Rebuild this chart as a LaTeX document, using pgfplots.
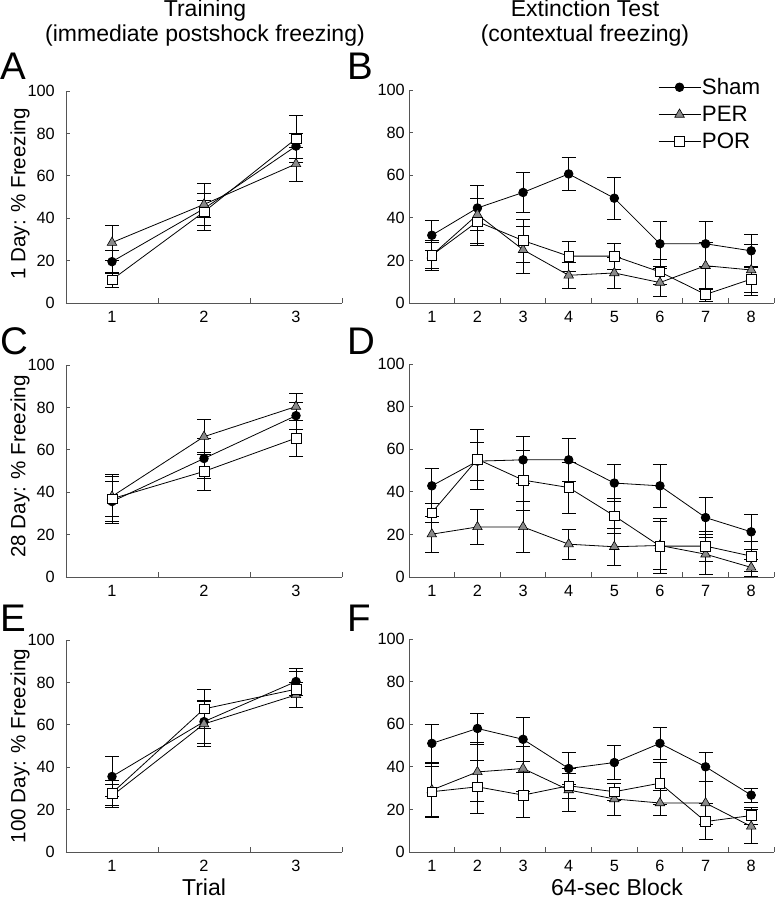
\documentclass[border=0pt]{standalone}
\usepackage{fontspec}
\setmainfont{Liberation Sans}
\usepackage{pgfplots}
\pgfplotsset{compat=1.18}

\newcommand{\tickfont}{\fontsize{16.3}{19}\selectfont}
\newcommand{\titfont}{\fontsize{23}{26}\selectfont}
\newcommand{\ylabfont}{\fontsize{20.6}{24}\selectfont}
\newcommand{\legfont}{\fontsize{22.3}{26}\selectfont}
\newcommand{\letfont}{\fontsize{38.5}{40}\selectfont}
\definecolor{axgray}{HTML}{555555}
\definecolor{pergray}{HTML}{8A8A8A}

\pgfplotsset{
 panel/.style={scale only axis, ymin=0, ymax=100, ytick={0,20,...,100},
   axis x line*=bottom, axis y line*=left, tick align=inside,
   axis line style={-, axgray, line width=0.8pt},
   major tick length=4pt, minor tick length=5pt,
   tick style={axgray, line width=0.8pt},
   major x tick style={draw=none},
   x tick label style={font=\tickfont, anchor=north, inner sep=0pt, yshift=-8pt},
   y tick label style={font=\tickfont, anchor=east, inner sep=0pt},
   /pgf/number format/assume math mode=true,
   clip=false,
 },
 left col/.style={panel, width=276pt, height=212pt, xmin=0.5, xmax=3.5,
   xtick={1,2,3}, minor xtick={1.5,2.5,3.5}, y tick label style={xshift=-11pt}},
 right col/.style={panel, width=365pt, height=213pt, xmin=0.5, xmax=8.5,
   xtick={1,...,8}, minor xtick={1.5,2.5,...,8.5}, y tick label style={xshift=-4pt}},
 errs/.style={error bars/y dir=both, error bars/y explicit,
   error bars/error bar style={black, line width=0.7pt},
   error bars/error mark options={rotate=90, mark size=7pt, black, line width=0.7pt}},
 sham/.style={black, line width=0.8pt, mark=*, mark size=4.3pt,
   mark options={fill=black, solid}, errs},
 per/.style={black, line width=0.8pt, mark=triangle*, mark size=5.5pt,
   mark options={fill=pergray, draw=black, solid, line width=0.6pt}, errs},
 por/.style={black, line width=0.8pt, mark=square*, mark size=4.8pt,
   mark options={fill=white, draw=black, solid, line width=0.6pt}, errs},
}

\begin{document}
\begin{tikzpicture}
\path[use as bounding box] (0,0) rectangle (776pt,899pt);

% ---------- A ----------
\begin{axis}[left col, at={(66pt,596pt)}, anchor=south west]
\addplot[sham] coordinates {(1,19.5) +- (0,5.5) (2,44.5) +- (0,4) (3,74) +- (0,6)};
\addplot[per] coordinates {(1,28.5) +- (0,8.3) (2,46.5) +- (0,10) (3,65.6) +- (0,8)};
\addplot[por] coordinates {(1,11) +- (0,3.5) (2,43) +- (0,8.5) (3,77.5) +- (0,11)};
\end{axis}

% ---------- B ----------
\begin{axis}[right col, at={(409pt,596pt)}, anchor=south west,
  legend style={draw=none, fill=none, at={(0.682,1.060)}, anchor=north west,
    font=\legfont, inner sep=0pt, row sep=8pt,
    nodes={inner sep=1pt}, cells={anchor=west}},
  legend image code/.code={\draw[mark repeat=2,mark phase=2] plot coordinates {(0pt,0pt) (21pt,0pt) (42pt,0pt)};}]
\addplot[sham] coordinates {(1,31.8) +- (0,7) (2,44.6) +- (0,10.5) (3,51.9) +- (0,9.3) (4,60.6) +- (0,7.7) (5,49.2) +- (0,10) (6,27.8) +- (0,10.4) (7,27.8) +- (0,10.4) (8,24.5) +- (0,7.8)};
\addplot[per] coordinates {(1,22.4) +- (0,6) (2,41.5) +- (0,13.7) (3,25) +- (0,11.2) (4,13) +- (0,6.2) (5,14.1) +- (0,7.3) (6,9.6) +- (0,6.5) (7,17.5) +- (0,11) (8,15.5) +- (0,12)};
\addplot[por] coordinates {(1,22.4) +- (0,7) (2,38.2) +- (0,11) (3,29.3) +- (0,10) (4,22) +- (0,7) (5,22) +- (0,6) (6,14.6) +- (0,6) (7,4) +- (0,3) (8,11.2) +- (0,6)};
\legend{Sham,PER,POR}
\end{axis}

% ---------- C ----------
\begin{axis}[left col, at={(66pt,322pt)}, anchor=south west]
\addplot[sham] coordinates {(1,35.6) +- (0,9.5) (2,55.9) +- (0,9.5) (3,76.1) +- (0,6.5)};
\addplot[per] coordinates {(1,38) +- (0,9.4) (2,66.2) +- (0,8.2) (3,80.4) +- (0,6.3)};
\addplot[por] coordinates {(1,36.9) +- (0,11.5) (2,49.8) +- (0,9) (3,65.5) +- (0,8.4)};
\end{axis}

% ---------- D ----------
\begin{axis}[right col, at={(409pt,322pt)}, anchor=south west]
\addplot[sham] coordinates {(1,42.8) +- (0,8) (2,54.4) +- (0,9) (3,55) +- (0,11) (4,55) +- (0,10) (5,44.1) +- (0,8.7) (6,42.8) +- (0,10) (7,27.9) +- (0,9.3) (8,21.2) +- (0,8)};
\addplot[per] coordinates {(1,20.1) +- (0,8.6) (2,23.5) +- (0,8.3) (3,23.5) +- (0,11.8) (4,15.4) +- (0,6.9) (5,14.2) +- (0,8.7) (6,14.8) +- (0,11.4) (7,10.7) +- (0,9.3) (8,4.5) +- (0,4)};
\addplot[por] coordinates {(1,30.2) +- (0,4.5) (2,55.3) +- (0,14) (3,45.5) +- (0,14) (4,42) +- (0,12) (5,28.7) +- (0,8) (6,14.5) +- (0,13) (7,14.5) +- (0,7) (8,9.8) +- (0,7)};
\end{axis}

% ---------- E ----------
\begin{axis}[left col, at={(66pt,47pt)}, anchor=south west]
\addplot[sham] coordinates {(1,35.6) +- (0,9.5) (2,61.5) +- (0,10.2) (3,80.4) +- (0,6.3)};
\addplot[per] coordinates {(1,26.5) +- (0,5.5) (2,60.4) +- (0,10.6) (3,74.1) +- (0,5.8)};
\addplot[por] coordinates {(1,27.8) +- (0,6) (2,67.5) +- (0,9) (3,76.8) +- (0,8.5)};
\end{axis}

% ---------- F ----------
\begin{axis}[right col, at={(409pt,47pt)}, anchor=south west]
\addplot[sham] coordinates {(1,51) +- (0,8.9) (2,58) +- (0,7.3) (3,52.9) +- (0,10.4) (4,39.2) +- (0,7.5) (5,42) +- (0,8) (6,51) +- (0,7.5) (7,40) +- (0,6.7) (8,26.7) +- (0,3.3)};
\addplot[per] coordinates {(1,29.1) +- (0,12.5) (2,37.6) +- (0,14) (3,39.2) +- (0,10.5) (4,29.1) +- (0,10) (5,24.9) +- (0,7.5) (6,23) +- (0,6) (7,23) +- (0,10) (8,12) +- (0,8)};
\addplot[por] coordinates {(1,28.3) +- (0,12) (2,30.6) +- (0,12.4) (3,26.7) +- (0,10.5) (4,31.1) +- (0,6) (5,28.3) +- (0,4) (6,32.3) +- (0,10) (7,14.3) +- (0,8.5) (8,17.1) +- (0,4)};
\end{axis}

% ---------- text ----------
\node[anchor=base, font=\titfont, inner sep=0pt] at (205pt,882pt) {Training};
\node[anchor=base, font=\titfont, inner sep=0pt] at (205pt,857pt) {(immediate postshock freezing)};
\node[anchor=base, font=\titfont, inner sep=0pt] at (585pt,882pt) {Extinction Test};
\node[anchor=base, font=\titfont, inner sep=0pt] at (585pt,857pt) {(contextual freezing)};

\node[anchor=base west, font=\letfont, inner sep=0pt] at (0pt,819pt) {A};
\node[anchor=base west, font=\letfont, inner sep=0pt] at (347pt,819pt) {B};
\node[anchor=base west, font=\letfont, inner sep=0pt] at (0pt,544pt) {C};
\node[anchor=base west, font=\letfont, inner sep=0pt] at (347pt,544pt) {D};
\node[anchor=base west, font=\letfont, inner sep=0pt] at (0pt,267pt) {E};
\node[anchor=base west, font=\letfont, inner sep=0pt] at (347pt,267pt) {F};

\node[rotate=90, font=\ylabfont, inner sep=0pt] at (20pt,705pt) {1 Day: \% Freezing};
\node[rotate=90, font=\ylabfont, inner sep=0pt] at (20pt,432.5pt) {28 Day: \% Freezing};
\node[rotate=90, font=\ylabfont, inner sep=0pt] at (20pt,153pt) {100 Day: \% Freezing};

\node[anchor=base, font=\titfont, inner sep=0pt] at (204pt,3.5pt) {Trial};
\node[anchor=base, font=\titfont, inner sep=0pt] at (617pt,3.5pt) {64-sec Block};
\end{tikzpicture}
\end{document}
